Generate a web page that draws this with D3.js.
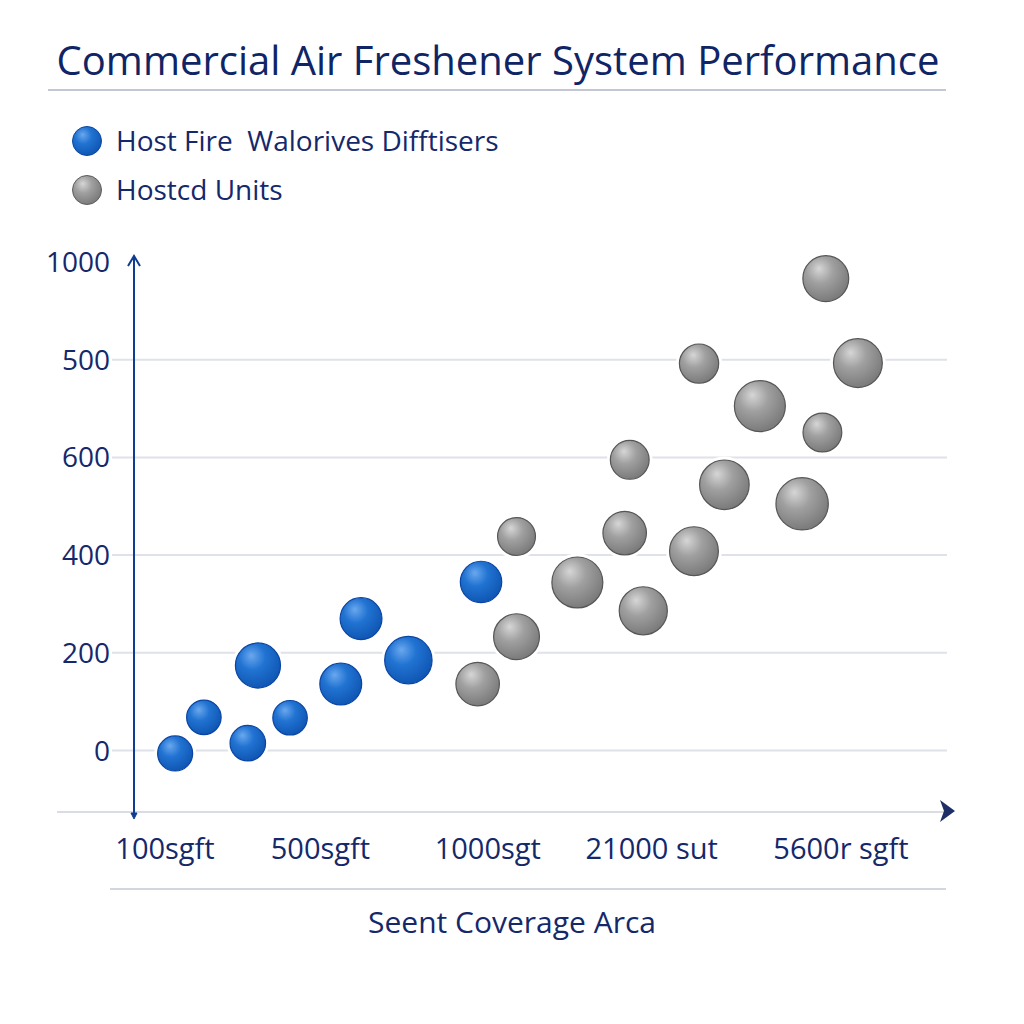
<!DOCTYPE html>
<html>
<head>
<meta charset="utf-8">
<script src="https://cdn.jsdelivr.net/npm/d3@7"></script>
<style>
  body { margin: 0; background: #fff; }
  svg { display: block; font-family: 'Open Sans', sans-serif; }
</style>
</head>
<body>
<svg id="chart" width="1024" height="1024"></svg>
<script>
// chart data
const title = 'Commercial Air Freshener System Performance'
const seriesNames = ['Host Fire  Walorives Difftisers', 'Hostcd Units']
const xTickLabels = ['100sgft', '500sgft', '1000sgt', '21000 sut', '5600r sgft']
const xTickValues = [0, 0.92, 1.91, 2.88, 4]
const yTickLabels = ['0', '200', '400', '600', '500', '1000']
const yTickValues = [0, 200, 400, 600, 800, 1000]
const xTitle = 'Seent Coverage Arca'

// series 1 (blue)
const blueX = [0.06, 0.23, 0.49, 0.55, 0.74, 1.04, 1.16, 1.44, 1.87]
const blueY = [-6, 68, 15, 174, 67, 136, 270, 185, 345]
const blueSize = [36, 35, 37, 59, 35, 51, 51, 65, 50]
// series 2 (gray)
const grayX = [1.85, 2.08, 2.08, 2.44, 2.72, 2.75, 2.83, 3.13, 3.31, 3.16, 3.52, 3.89, 3.91, 4.10, 3.77]
const grayY = [136, 438, 233, 344, 445, 595, 286, 408, 544, 792, 705, 651, 966, 793, 505]
const graySize = [55, 42, 61, 75, 55, 44, 67, 69, 71, 45, 75, 44, 61, 69, 79]

const svg = d3.select('#chart')
const navy = '#14286b'

const x = d3.scaleLinear().domain([0, 4]).range([165, 841])
const y = d3.scaleLinear().domain([0, 1000]).range([750.5, 262])
const r = d3.scaleSqrt().domain([0, 100]).range([0, 30])

// gradients for the shaded balls
const defs = svg.append('defs')
function ball(id, hi, mid, lo) {
    let g = defs.append('radialGradient')
        .attr('id', id)
        .attr('cx', '40%').attr('cy', '35%').attr('r', '65%')
        .attr('fx', '35%').attr('fy', '28%')
    g.append('stop').attr('offset', '0%').attr('stop-color', hi)
    g.append('stop').attr('offset', '45%').attr('stop-color', mid)
    g.append('stop').attr('offset', '100%').attr('stop-color', lo)
}
ball('gBlue', '#6aa8ee', '#2173d2', '#1057b4')
ball('gGray', '#d6d6d6', '#a0a0a0', '#7b7b7b')

// title
svg.append('text')
    .attr('x', 498).attr('y', 75)
    .attr('text-anchor', 'middle')
    .style('font-size', '40px')
    .attr('fill', '#0f2566')
    .text(title)

svg.append('line')
    .attr('x1', 48).attr('x2', 946).attr('y1', 90).attr('y2', 90)
    .attr('stroke', '#aeb4c4').attr('stroke-width', 1.5)

// legend
const legendColors = ['url(#gBlue)', 'url(#gGray)']
const legendStroke = ['#0d47a1', '#5e5e5e']
let legend = svg.append('g').selectAll('g')
    .data(seriesNames)
    .enter().append('g')
    .attr('transform', (d, i) => `translate(87, ${141 + i * 49})`)

legend.append('circle')
    .attr('r', 17).attr('fill', '#fff')
legend.append('circle')
    .attr('r', 14.5)
    .attr('fill', (d, i) => legendColors[i])
    .attr('stroke', (d, i) => legendStroke[i]).attr('stroke-width', 1)
legend.append('text')
    .attr('x', 29).attr('y', 10)
    .style('font-size', '28px')
    .style('white-space', 'pre')
    .attr('fill', navy)
    .text(d => d)

// grid lines
svg.append('g').selectAll('line')
    .data(yTickValues.slice(0, 5))
    .enter().append('line')
    .attr('x1', 112).attr('x2', 947)
    .attr('y1', d => y(d)).attr('y2', d => y(d))
    .attr('stroke', '#dfe2e8').attr('stroke-width', 2)

// y tick labels
svg.append('g').selectAll('text')
    .data(yTickValues)
    .enter().append('text')
    .attr('x', 110).attr('y', d => y(d))
    .attr('dy', '0.36em')
    .attr('text-anchor', 'end')
    .style('font-size', '28px')
    .attr('fill', navy)
    .text((d, i) => yTickLabels[i])

// x axis base line with arrow
svg.append('line')
    .attr('x1', 57).attr('x2', 944).attr('y1', 812).attr('y2', 812)
    .attr('stroke', '#d9dce2').attr('stroke-width', 2)
svg.append('path')
    .attr('d', 'M940,800 L955,811 L940,822 L944,811 Z')
    .attr('fill', '#1d2f66')

// y axis with arrows
svg.append('line')
    .attr('x1', 134).attr('x2', 134).attr('y1', 257).attr('y2', 817)
    .attr('stroke', '#0e3d91').attr('stroke-width', 2)
svg.append('path')
    .attr('d', 'M128,266 L134,256 L140,266')
    .attr('fill', 'none').attr('stroke', '#0e3d91').attr('stroke-width', 2)
svg.append('path')
    .attr('d', 'M131,813 L134,819 L137,813 Z')
    .attr('fill', '#0e3d91').attr('stroke', '#0e3d91').attr('stroke-width', 1)

// x tick labels
svg.append('g').selectAll('text')
    .data(xTickValues)
    .enter().append('text')
    .attr('x', d => x(d)).attr('y', 859)
    .attr('text-anchor', 'middle')
    .style('font-size', '29px')
    .attr('fill', navy)
    .text((d, i) => xTickLabels[i])

svg.append('line')
    .attr('x1', 110).attr('x2', 946).attr('y1', 889).attr('y2', 889)
    .attr('stroke', '#c3c8d3').attr('stroke-width', 1.5)

svg.append('text')
    .attr('x', 512).attr('y', 933)
    .attr('text-anchor', 'middle')
    .style('font-size', '30px')
    .attr('fill', navy)
    .text(xTitle)

// bubbles
const blue = blueX.map((v, i) => ({ x: v, y: blueY[i], s: blueSize[i] }))
const gray = grayX.map((v, i) => ({ x: v, y: grayY[i], s: graySize[i] }))

function drawBalls(data, fill, stroke) {
    let g = svg.append('g')
    let node = g.selectAll('g')
        .data(data)
        .enter().append('g')
        .attr('transform', d => `translate(${x(d.x)}, ${y(d.y)})`)
    node.append('circle')
        .attr('r', d => r(d.s) + 3)
        .attr('fill', '#fff')
    node.append('circle')
        .attr('r', d => r(d.s) - 0.5)
        .attr('fill', fill)
        .attr('stroke', stroke).attr('stroke-width', 1.2)
}
drawBalls(gray, 'url(#gGray)', '#565656')
drawBalls(blue, 'url(#gBlue)', '#0b45a3')
</script>
</body>
</html>
